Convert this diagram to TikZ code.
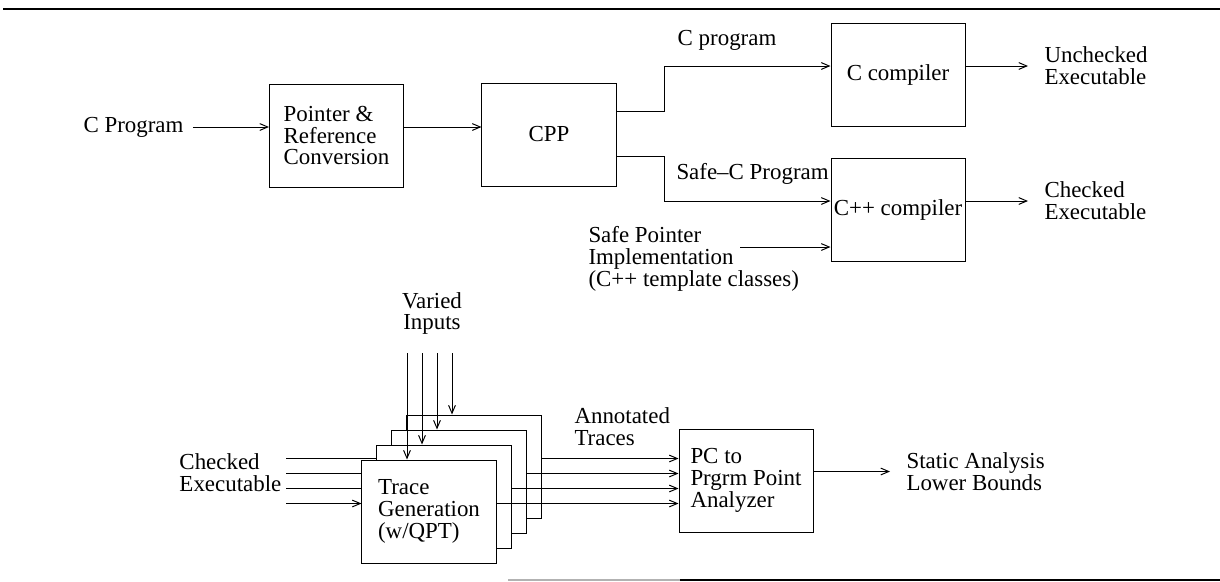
\documentclass[tikz,border=0pt]{standalone}
\usepackage{fontspec}
\setmainfont{Liberation Serif}
\usepackage{tikz}
\usetikzlibrary{arrows.meta,positioning}

\begin{document}
\begin{tikzpicture}[x=0.025cm,y=-0.025cm,line width=0.7pt,
    font=\fontsize{16.3}{15.6}\selectfont,
    blk/.style={draw,fill=white,minimum width=3.35cm,minimum height=2.575cm,align=left,inner sep=0pt},
    lbl/.style={inner sep=0pt,align=left},
    arr/.style={-{Straight Barb[length=0.2cm,width=0.17cm]}}]
  \useasboundingbox (0,0) rectangle (1220,581);
  % rules
  \draw[line width=1.4pt] (3,9) -- (1220,9);
  \draw[line width=1.4pt,gray!60] (508,580) -- (680,580);
  \draw[line width=1.4pt] (680,580) -- (1220,580);
  % conversion and preprocessor
  \node[lbl] (cprog) at (133.5,127) {C Program};
  \node[blk] (ptr) at (336.5,135.5) {Pointer \&\\Reference\\Conversion};
  \node[blk] (cpp) at (549,134.5) {CPP};
  \draw[arr,shorten <=0.225cm] (cprog.east) -- (cprog.east -| ptr.west);
  \draw[arr] (ptr.east |- cprog) -- (cpp.west |- cprog);
  % compilers
  \node[blk,align=center] (ccomp) at (898,74.5) {C compiler};
  \node[blk,align=center] (cppcomp) at (898,209.5) {C++ compiler};
  \node[lbl] (cplbl) at (727,40) {C program};
  \node[lbl,anchor=west] (safec) at (676,174) {Safe--C Program};
  \node[lbl,anchor=west] (safeptr) at (588,258.5) {Safe Pointer\\Implementation\\(C++ template classes)};
  \node[lbl,anchor=west] (uncheck) at (1044,66) {Unchecked\\Executable};
  \node[lbl,anchor=west] (checked) at (1044,201) {Checked\\Executable};
  \coordinate (ca) at (664,111);
  \coordinate (cb) at (664,66);
  \coordinate (sa) at (664,156);
  \coordinate (sb) at (664,201);
  \coordinate (sp) at (740,247);
  \draw[arr] (cpp.east |- ca) -- (ca) -- (cb) -- (cb -| ccomp.west);
  \draw[arr] (cpp.east |- sa) -- (sa) -- (sb) -- (sb -| cppcomp.west);
  \draw[arr] (sp) -- (sp -| cppcomp.west);
  \draw[arr,shorten >=0.4cm] (ccomp.east |- uncheck.west) -- (uncheck.west);
  \draw[arr,shorten >=0.4cm] (cppcomp.east |- checked.west) -- (checked.west);
  % trace generation
  \node[lbl,align=center] (vin) at (432,313.5) {Varied\\Inputs};
  \node[lbl,anchor=west] (ckexe) at (179,473) {Checked\\Executable};
  \node[lbl,anchor=west] (annot) at (574,427) {Annotated\\Traces};
  \node[blk] (pc) at (746,480.5) {PC to\\Prgrm Point\\Analyzer};
  \node[lbl,anchor=west] (static) at (906,471.5) {Static Analysis\\Lower Bounds};
  \foreach \k/\x/\y in {4/407/415, 3/392/430, 2/377/445, 1/362/460} {
    \node[blk] (tr\k) at (\x+67,\y+51.5) {};
    \coordinate (in\k) at (286,\y+43.5);
    \coordinate (v\k) at (\x+45,353);
    \draw[arr] (in\k) -- (in\k -| tr\k.west);
    \draw[arr] (v\k) -- (v\k |- tr\k.north);
    \draw[arr] (in\k -| tr\k.east) -- (in\k -| pc.west);
  }
  \node[lbl] (trtxt) at (tr1) {Trace\\Generation\\(w/QPT)};
  \draw[arr,shorten >=0.4cm] (pc.east |- static.west) -- (static.west);
\end{tikzpicture}
\end{document}
